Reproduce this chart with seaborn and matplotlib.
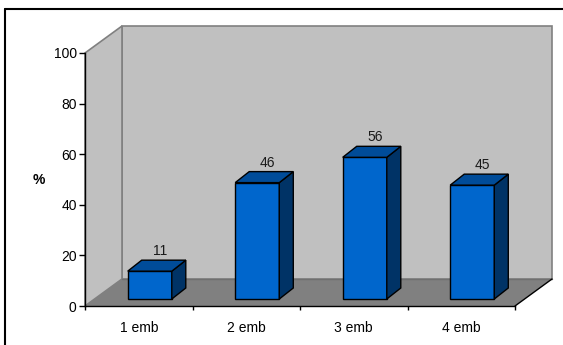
import matplotlib
matplotlib.use("Agg")
import matplotlib.pyplot as plt
import seaborn as sns
import pandas as pd
from matplotlib.patches import Polygon
from matplotlib.lines import Line2D
from matplotlib.transforms import ScaledTranslation

# Chart data
categories = ["1 emb", "2 emb", "3 emb", "4 emb"]
values = [11, 46, 56, 45]
y_ticks = [0, 20, 40, 60, 80, 100]

sns.set_theme(style="white")
plt.rcParams["font.family"] = ["Liberation Sans", "DejaVu Sans"]

FS = 10
W, H, DPI = 563, 345, 100
fig = plt.figure(figsize=(W / DPI, H / DPI), dpi=DPI)
fig.patch.set_facecolor("white")

# Pixel-space layer for the 3D walls and floor
bg = fig.add_axes([0, 0, 1, 1], zorder=0)
bg.set_xlim(0, W)
bg.set_ylim(0, H)
bg.axis("off")

# Front plane of the plot box (in pixels)
X0, Y0, PW, PH = 85, 39, 430, 253
X1, Y1 = X0 + PW, Y0 + PH
ax = fig.add_axes([X0 / W, Y0 / H, PW / W, PH / H], zorder=1)
ax.patch.set_visible(False)

WALL_D = (37, 27)     # depth of the box
BAR_SHIFT = (11, 7)   # bars sit part-way into the box
BAR_D = (14, 11)      # depth of each column

LIGHT, DARK, EDGE = "#C0C0C0", "#808080", "#808080"

back = [(X0 + WALL_D[0], Y0 + WALL_D[1]), (X1 + WALL_D[0], Y0 + WALL_D[1]),
        (X1 + WALL_D[0], Y1 + WALL_D[1]), (X0 + WALL_D[0], Y1 + WALL_D[1])]
side = [(X0, Y0), (X0, Y1), (X0 + WALL_D[0], Y1 + WALL_D[1]), (X0 + WALL_D[0], Y0 + WALL_D[1])]
floor = [(X0, Y0), (X1, Y0), (X1 + WALL_D[0], Y0 + WALL_D[1]), (X0 + WALL_D[0], Y0 + WALL_D[1])]
bg.add_patch(Polygon(back, closed=True, facecolor=LIGHT, edgecolor=EDGE, lw=1.2))
bg.add_patch(Polygon(side, closed=True, facecolor=LIGHT, edgecolor=EDGE, lw=1.2))
bg.add_patch(Polygon(floor, closed=True, facecolor=DARK, edgecolor="none"))
bg.plot([X0 + WALL_D[0], X1 + WALL_D[0]], [Y0 + WALL_D[1]] * 2, color="#707070", lw=1)
bg.plot([X1, X1 + WALL_D[0]], [Y0, Y0 + WALL_D[1]], color="black", lw=1)

# Columns
df = pd.DataFrame({"cat": categories, "pct": values})
sns.barplot(data=df, x="cat", y="pct", ax=ax, color="#0066CC", saturation=1,
            width=0.41, edgecolor="black", linewidth=1.0)
ax.set_xlim(-0.5, len(categories) - 0.5)
ax.set_ylim(0, 100)

shift = ScaledTranslation(BAR_SHIFT[0] / DPI, BAR_SHIFT[1] / DPI, fig.dpi_scale_trans)
for p in ax.patches[:len(values)]:
    x, w, h = p.get_x(), p.get_width(), p.get_height()
    p.set_transform(ax.transData + shift)
    p.set_clip_on(False)
    (lx, by), (rx, ty) = ax.transData.transform([(x, 0), (x + w, h)])
    lx += BAR_SHIFT[0]; rx += BAR_SHIFT[0]
    by += BAR_SHIFT[1]; ty += BAR_SHIFT[1]
    dx, dy = BAR_D
    side_face = [(rx, by), (rx + dx, by + dy), (rx + dx, ty + dy), (rx, ty)]
    top_face = [(lx, ty), (rx, ty), (rx + dx, ty + dy), (lx + dx, ty + dy)]
    ax.add_patch(Polygon(side_face, closed=True, facecolor="#003366", edgecolor="black",
                         lw=1.0, transform=bg.transData, clip_on=False, zorder=3))
    ax.add_patch(Polygon(top_face, closed=True, facecolor="#004C99", edgecolor="black",
                         lw=1.0, transform=bg.transData, clip_on=False, zorder=3))

# Value labels above each column
for i, v in enumerate(values):
    ax.annotate(f"{v}", xy=(i, v), xytext=(21, 23), textcoords="offset pixels",
                ha="center", va="baseline", fontsize=FS, color="#1a1a1a", annotation_clip=False)

# Axes styling
for s in ["top", "right"]:
    ax.spines[s].set_visible(False)
for s in ["left", "bottom"]:
    ax.spines[s].set_color("black")
    ax.spines[s].set_linewidth(1.0)

ax.set_yticks(y_ticks)
ax.set_yticklabels([str(t) for t in y_ticks])
ax.tick_params(axis="y", left=True, direction="out", length=4, width=1, pad=2,
               labelsize=FS, colors="black")
ax.set_xticks(range(len(categories)))
ax.set_xticklabels(categories)
ax.set_xticks([i - 0.5 for i in range(len(categories) + 1)], minor=True)
ax.tick_params(axis="x", which="major", bottom=True, length=0, pad=10.5, labelsize=FS, colors="black")
ax.tick_params(axis="x", which="minor", bottom=True, direction="out", length=3, width=1, color="black")

ax.set_xlabel("")
ax.set_ylabel("%", rotation=0, fontweight="bold", fontsize=FS, color="black")
ax.yaxis.set_label_coords((39 - X0) / PW, 0.5)
ax.yaxis.label.set_horizontalalignment("center")
ax.yaxis.label.set_verticalalignment("center")

# Chart frame
fig.add_artist(Line2D([5 / W, 5 / W], [0, (H - 9) / H], transform=fig.transFigure,
                      color="black", lw=1.5))
fig.add_artist(Line2D([5 / W, 1], [(H - 9) / H, (H - 9) / H], transform=fig.transFigure,
                      color="black", lw=1.5))

fig.savefig("out.png", dpi=DPI)
